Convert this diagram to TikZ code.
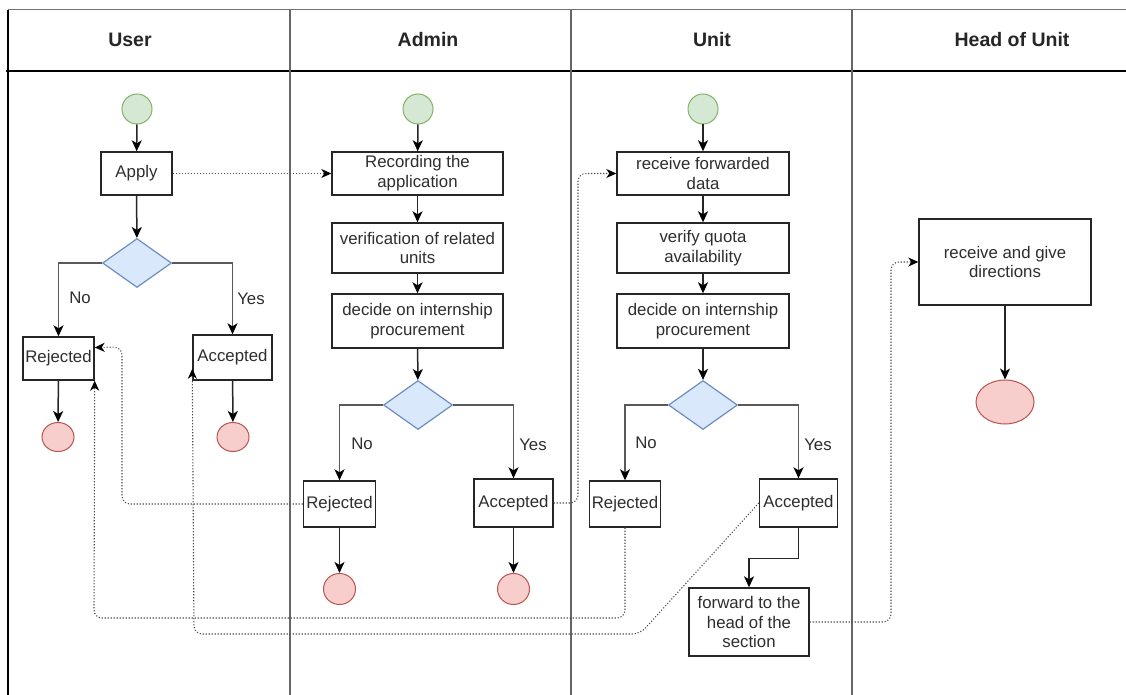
\documentclass[tikz,border=0pt]{standalone}
\usepackage{fontspec}
\setmainfont{Liberation Sans}
\usetikzlibrary{shapes.geometric,arrows.meta,calc}

\definecolor{startfill}{HTML}{D5E8D4}
\definecolor{startline}{HTML}{82B366}
\definecolor{endfill}{HTML}{F8CECC}
\definecolor{endline}{HTML}{B85450}
\definecolor{decfill}{HTML}{DAE8FC}
\definecolor{decline}{HTML}{6C8EBF}
\definecolor{ink}{HTML}{2E2E2E}

\tikzset{
  bodyfont/.style={font=\fontsize{16.8}{19.8}\selectfont},
  headfont/.style={font=\bfseries\fontsize{19.5}{22}\selectfont},
  stepbox/.style={draw=black!85, line width=1.4pt, fill=white, rectangle,
    inner sep=0pt, align=center, text=ink, bodyfont},
  startdot/.style={circle, draw=startline, fill=startfill, line width=1pt,
    minimum size=30pt, inner sep=0pt},
  enddot/.style={ellipse, draw=endline, fill=endfill, line width=1pt,
    inner sep=0pt},
  decision/.style={diamond, draw=decline, fill=decfill, line width=1.2pt,
    minimum width=69pt, minimum height=49pt, inner sep=0pt},
  flow/.style={draw=black!85, line width=1.5pt,
    -{Stealth[length=11pt,width=10pt,inset=3pt,black]}},
  branch/.style={flow, draw=black!65},
  handoff/.style={draw=black!70, line width=1.1pt,
    dash pattern=on 1.1pt off 1.9pt, rounded corners=8pt,
    -{Stealth[length=10pt,width=9pt,inset=3pt,black]}},
  tag/.style={text=ink, bodyfont, inner sep=0pt},
  lanerule/.style={draw=black!60, line width=2pt},
}

\begin{document}
\begin{tikzpicture}[x=1pt,y=-1pt]
\useasboundingbox (0,0) rectangle (1126,695);
\fill[white] (0,0) rectangle (1126,695);

% swimlane frame
\draw[draw=black!55, line width=1pt] (8,10) -- (1126,10);
\draw[draw=black, line width=1.3pt] (6,71) -- (1126,71);
\draw[draw=black, line width=1.4pt] (8,10) -- (8,695);
\draw[lanerule] (290,10) -- (290,695);
\draw[lanerule] (571,10) -- (571,695);
\draw[lanerule] (852,10) -- (852,695);

% lane titles
\node[headfont, text=black!85] (tUser) at (130,40) {User};
\node[headfont, text=black!85] (tAdmin) at (428,40) {Admin};
\node[headfont, text=black!85] (tUnit) at (712,40) {Unit};
\node[headfont, text=black!85] (tHead) at (1012,40) {Head of Unit};

% ---------- User ----------
\node[startdot] (ustart) at (137,109) {};
\node[stepbox, minimum width=71pt, minimum height=43pt] (uapply) at (136.5,173.5) {Apply};
\node[decision] (udec) at (137,263) {};
\node[stepbox, minimum width=71pt, minimum height=43pt] (urej) at (58.5,358.5) {Rejected};
\node[stepbox, minimum width=79pt, minimum height=45pt] (uacc) at (232.5,357.5) {Accepted};
\node[enddot, minimum width=32pt, minimum height=29pt] (urejend) at (58,437) {};
\node[enddot, minimum width=32pt, minimum height=29pt] (uaccend) at (233,437) {};
\node[tag] (uno) at (80,298) {No};
\node[tag] (uyes) at (251,299) {Yes};

\draw[flow] (ustart) -- (uapply);
\draw[flow] (uapply) -- (udec);
\draw[branch] (udec.west) -| (urej.north);
\draw[branch] (udec.east) -| (uacc.north);
\draw[flow] (urej) -- (urejend);
\draw[flow] (uacc) -- (uaccend);

% ---------- Admin ----------
\node[startdot] (astart) at (418,109) {};
\node[stepbox, minimum width=171pt, minimum height=43pt] (arec) at (417.5,173.5) {Recording the\\application};
\node[stepbox, minimum width=171pt, minimum height=50pt] (aver) at (417.5,248) {verification of related\\units};
\node[stepbox, minimum width=171pt, minimum height=54pt] (adecide) at (417.5,321) {decide on internship\\procurement};
\node[decision] (adec) at (418,405) {};
\node[stepbox, minimum width=72pt, minimum height=46pt] (arej) at (339.5,504) {Rejected};
\node[stepbox, minimum width=79pt, minimum height=48pt] (aacc) at (513.5,503) {Accepted};
\node[enddot, minimum width=32pt, minimum height=31pt] (arejend) at (339.5,589) {};
\node[enddot, minimum width=32pt, minimum height=31pt] (aaccend) at (513.5,589) {};
\node[tag] (ano) at (362,444) {No};
\node[tag] (ayes) at (533,445) {Yes};

\draw[flow] (astart) -- (arec);
\draw[flow] (arec) -- (aver);
\draw[flow] (aver) -- (adecide);
\draw[flow] (adecide) -- (adec);
\draw[branch] (adec.west) -| (arej.north);
\draw[branch] (adec.east) -| (aacc.north);
\draw[flow] (arej) -- (arejend);
\draw[flow] (aacc) -- (aaccend);

% ---------- Unit ----------
\node[startdot] (nstart) at (703,109) {};
\node[stepbox, minimum width=172pt, minimum height=43pt] (nrecv) at (703,173.5) {receive forwarded\\data};
\node[stepbox, minimum width=172pt, minimum height=50pt] (nver) at (703,248) {verify quota\\availability};
\node[stepbox, minimum width=172pt, minimum height=54pt] (ndecide) at (703,321) {decide on internship\\procurement};
\node[decision] (ndec) at (703,405) {};
\node[stepbox, minimum width=71pt, minimum height=46pt] (nrej) at (625,504) {Rejected};
\node[stepbox, minimum width=78pt, minimum height=48pt] (nacc) at (798.5,503) {Accepted};
\node[stepbox, minimum width=120pt, minimum height=68pt] (nfwd) at (749,622) {forward to the\\head of the\\section};
\node[tag] (nno) at (646,443) {No};
\node[tag] (nyes) at (818,445) {Yes};

\draw[flow] (nstart) -- (nrecv);
\draw[flow] (nrecv) -- (nver);
\draw[flow] (nver) -- (ndecide);
\draw[flow] (ndecide) -- (ndec);
\draw[branch] (ndec.west) -| (nrej.north);
\draw[branch] (ndec.east) -| (nacc.north);
\draw[flow] (nacc.south) -- ++(0,31) -| (nfwd.north);

% ---------- Head of Unit ----------
\node[stepbox, minimum width=172pt, minimum height=86pt] (hrecv) at (1005,262) {receive and give\\directions};
\node[enddot, minimum width=58pt, minimum height=44pt] (hend) at (1005,402) {};
\draw[flow] (hrecv) -- (hend);

% ---------- hand-offs between lanes ----------
\coordinate (uaccin) at ($(uacc.south west)+(0,-12)$);
\coordinate (urejin) at ($(urej.east)+(0,-11)$);
\draw[handoff, rounded corners=0pt] (uapply.east) -- (arec.west);
\draw[handoff] (arej.west) -| (122,347) -- (urejin);
\draw[handoff] (nrej.south) |- (94,618) -- (urej.south east);
\draw[handoff] (nacc.west) -- (640,634) -- (194,634) -- (uaccin);
\draw[handoff] (aacc.east) -| (578,173.5) -- (nrecv.west);
\draw[handoff] (nfwd.east) -| (891,262) -- (hrecv.west);
\end{tikzpicture}
\end{document}
